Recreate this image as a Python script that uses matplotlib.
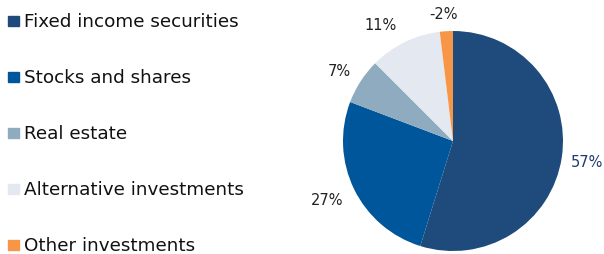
import matplotlib
matplotlib.use("Agg")
import matplotlib.pyplot as plt
import matplotlib.patches as mpatches
import numpy as np

categories = ["Fixed income securities", "Stocks and shares", "Real estate",
              "Alternative investments", "Other investments"]
values = [57, 27, 7, 11, 2]
labels = ["57%", "27%", "7%", "11%", "-2%"]
colors = ["#1f4a7c", "#00569a", "#8eabbf", "#e4e8f0", "#f79646"]
label_colors = ["#1f3a6e", "#222222", "#222222", "#222222", "#222222"]
label_dist = [1.23, 1.26, 1.22, 1.25, 1.16]
label_angle_offset = [0, -1, 1, 6, 1]

plt.rcParams['font.family'] = ['DejaVu Sans']
fig = plt.figure(figsize=(6.04, 2.55), dpi=100)

cx, cy, r = 453, 142, 110
W, H = 604, 255
ax = fig.add_axes([(cx - r) / W, (H - cy - r) / H, 2 * r / W, 2 * r / H])
wedges, _ = ax.pie(values, colors=colors, startangle=90, counterclock=False,
                   radius=1.0, wedgeprops=dict(linewidth=0))
for w, lab, d, off, c in zip(wedges, labels, label_dist, label_angle_offset, label_colors):
    ang = np.deg2rad((w.theta1 + w.theta2) / 2 + off)
    ax.text(d * np.cos(ang), d * np.sin(ang), lab, ha="center", va="center",
            fontsize=10.5, color=c)
ax.set_xlim(-1, 1)
ax.set_ylim(-1, 1)
ax.set_aspect("equal")
ax.axis("off")

# legend
y0 = 22
for i, (cat, col) in enumerate(zip(categories, colors)):
    y = y0 + i * 56
    fig.patches.append(mpatches.Rectangle((8 / W, (H - y - 5) / H), 11 / W, 10 / H,
                                          transform=fig.transFigure, color=col))
    fig.text(24 / W, (H - y) / H, cat, fontsize=13.2, va="center", ha="left",
             color="#111111")

fig.savefig("out.png", dpi=100)
